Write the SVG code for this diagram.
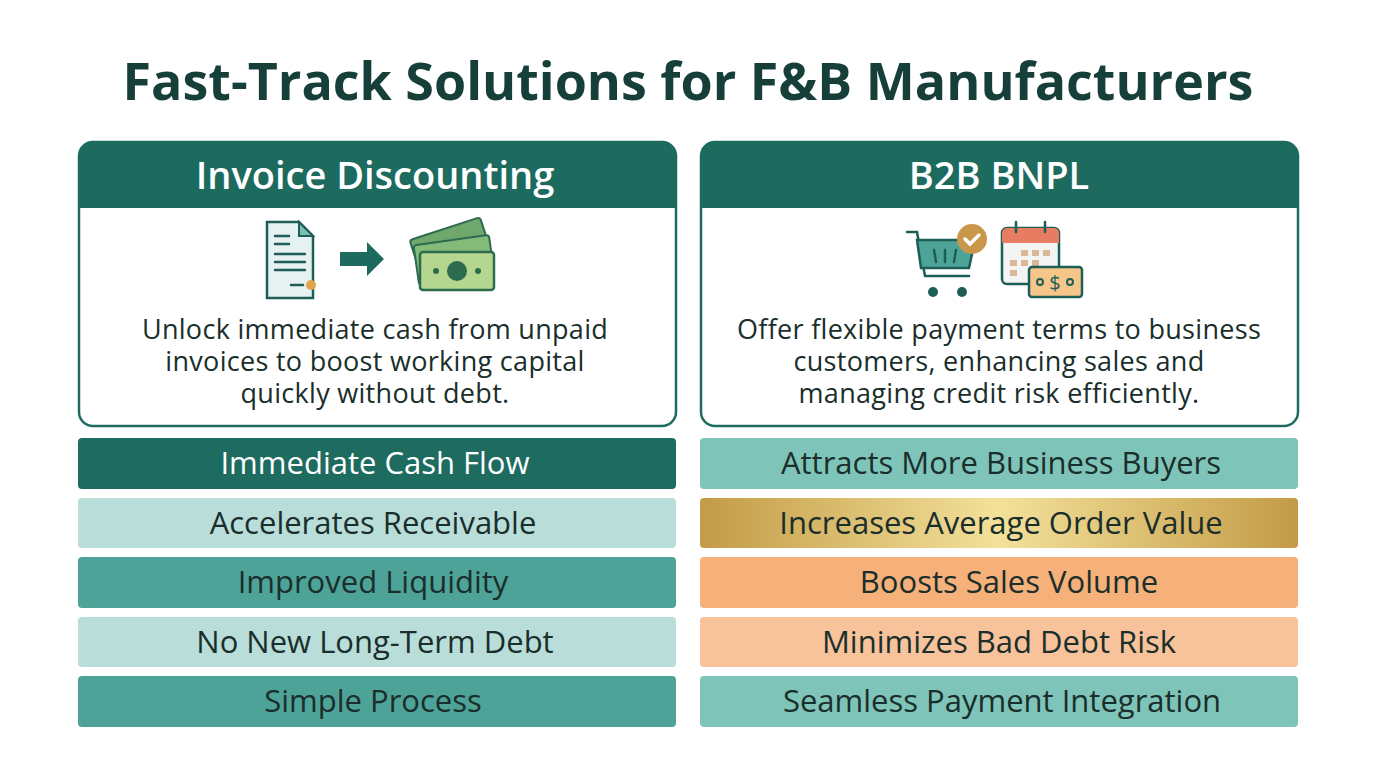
<svg xmlns="http://www.w3.org/2000/svg" width="1376" height="768" viewBox="0 0 1376 768">
<style>
.t{font-family:"Open Sans","Liberation Sans",sans-serif;text-anchor:middle}
.h{font-size:38px;font-weight:600;fill:#fff}
.b{font-size:27px;fill:#1a2e2b;font-weight:500;letter-spacing:0.3px}
.r{font-size:31px;fill:#1a2e2b;font-weight:500}
.ln{stroke:#1d5e56;stroke-width:2.5;fill:none;stroke-linecap:round}
</style>
<defs>
<linearGradient id="gold" x1="0" x2="1"><stop offset="0" stop-color="#c39b47"/><stop offset="0.5" stop-color="#f3e19a"/><stop offset="1" stop-color="#c39b47"/></linearGradient>
</defs>
<rect width="1376" height="768" fill="#fff"/>
<text class="t" x="688" y="100" font-size="52" font-weight="700" fill="#173f3a">Fast-Track Solutions for F&amp;B Manufacturers</text>
<g id="left-panel">
<rect x="79" y="142" width="597" height="284" rx="14" fill="#fff" stroke="#1d6b5f" stroke-width="2.5"/>
<path d="M79 208V156a14 14 0 0 1 14-14h569a14 14 0 0 1 14 14v52z" fill="#1d6b5f"/>
<text class="t h" x="375" y="189">Invoice Discounting</text>
<g id="icon-doc">
<path d="M267 222h32l14 14v62h-46z" fill="#e6f2f2" stroke="#1d5e56" stroke-width="2.5"/>
<path d="M299 222v14h14z" fill="#7cbfb5" stroke="#1d5e56" stroke-width="2"/>
<path class="ln" d="M275 236h14M275 244h14M275 254h30M275 262h30M275 270h30M291 285h12"/>
<circle cx="311" cy="285" r="5" fill="#e3a44c"/>
<path d="M340 252h27v-10l17 17-17 17v-10h-27z" fill="#1d6b5f"/>
<g transform="translate(410 228)">
<rect x="4" y="0" width="74" height="40" rx="3" fill="#6fa86c" stroke="#2d6b4f" stroke-width="2" transform="rotate(-18 40 20)"/>
<rect x="6" y="12" width="76" height="40" rx="3" fill="#85bb7a" stroke="#2d6b4f" stroke-width="2" transform="rotate(-8 44 32)"/>
<rect x="10" y="24" width="74" height="38" rx="3" fill="#b4d68e" stroke="#2d6b4f" stroke-width="2.5"/>
<circle cx="47" cy="43" r="10" fill="#2d6b4f"/><circle cx="26" cy="43" r="3" fill="#2d6b4f"/><circle cx="68" cy="43" r="3" fill="#2d6b4f"/>
</g>
</g>
<text class="t b" x="375" y="339">Unlock immediate cash from unpaid</text>
<text class="t b" x="375" y="371">invoices to boost working capital</text>
<text class="t b" x="375" y="403">quickly without debt.</text>
</g>
<g id="right-panel">
<rect x="701" y="142" width="597" height="284" rx="14" fill="#fff" stroke="#1d6b5f" stroke-width="2.5"/>
<path d="M701 208V156a14 14 0 0 1 14-14h569a14 14 0 0 1 14 14v52z" fill="#1d6b5f"/>
<text class="t h" x="999" y="189">B2B BNPL</text>
<g id="icon-cart">
<path d="M907 232h10l8 44h44" class="ln" stroke-width="3"/>
<path d="M917 240h58l-6 28h-48z" fill="#4ea399" stroke="#1d5e56" stroke-width="2.5"/>
<path class="ln" d="M934 250l2 12M945 250v12M956 250l-2 12"/>
<circle cx="933" cy="292" r="5" fill="#1d5e56"/><circle cx="962" cy="292" r="5" fill="#1d5e56"/>
<circle cx="972" cy="239" r="15" fill="#c9974a"/>
<path d="M965 239l5 5 9-9" stroke="#fff" stroke-width="3.5" fill="none" stroke-linecap="round"/>
<rect x="1002" y="228" width="57" height="56" rx="5" fill="#f4f4f4" stroke="#1d5e56" stroke-width="2.5"/>
<path d="M1002 243v-10a5 5 0 0 1 5-5h47a5 5 0 0 1 5 5v10z" fill="#e67c62"/>
<path class="ln" d="M1016 222v10M1045 222v10" stroke-width="3"/>
<g fill="#d8b896"><rect x="1021" y="250" width="7" height="6"/><rect x="1032" y="250" width="7" height="6"/><rect x="1043" y="250" width="7" height="6"/><rect x="1010" y="260" width="7" height="6"/><rect x="1021" y="260" width="7" height="6"/><rect x="1032" y="260" width="7" height="6"/><rect x="1010" y="270" width="7" height="6"/></g>
<rect x="1029" y="267" width="53" height="30" rx="3" fill="#f6c58a" stroke="#1d5e56" stroke-width="2.5"/>
<text class="t" x="1055" y="290" font-size="20" fill="#1d5e56">$</text>
<circle cx="1040" cy="282" r="3" fill="none" stroke="#1d5e56" stroke-width="2"/><circle cx="1070" cy="282" r="3" fill="none" stroke="#1d5e56" stroke-width="2"/>
</g>
<text class="t b" x="999" y="339">Offer flexible payment terms to business</text>
<text class="t b" x="999" y="371">customers, enhancing sales and</text>
<text class="t b" x="999" y="403">managing credit risk efficiently.</text>
</g>
<g id="left-rows">
<rect x="78" y="438" width="598" height="51" rx="4" fill="#1e6b60"/><text class="t r" x="375" y="474" style="fill:#fff">Immediate Cash Flow</text>
<rect x="78" y="498" width="598" height="50" rx="4" fill="#b9ddd8"/><text class="t r" x="373" y="534">Accelerates Receivable</text>
<rect x="78" y="557" width="598" height="51" rx="4" fill="#4ea399"/><text class="t r" x="373" y="593">Improved Liquidity</text>
<rect x="78" y="617" width="598" height="50" rx="4" fill="#b9ddd8"/><text class="t r" x="375" y="653">No New Long-Term Debt</text>
<rect x="78" y="676" width="598" height="51" rx="4" fill="#4ea399"/><text class="t r" x="373" y="712">Simple Process</text>
</g>
<g id="right-rows">
<rect x="700" y="438" width="598" height="51" rx="4" fill="#7fc4b9"/><text class="t r" x="1001" y="474">Attracts More Business Buyers</text>
<rect x="700" y="498" width="598" height="50" rx="4" fill="url(#gold)"/><text class="t r" x="1001" y="534">Increases Average Order Value</text>
<rect x="700" y="557" width="598" height="51" rx="4" fill="#f6b07a"/><text class="t r" x="1009" y="593">Boosts Sales Volume</text>
<rect x="700" y="617" width="598" height="50" rx="4" fill="#f8c29a"/><text class="t r" x="999" y="653">Minimizes Bad Debt Risk</text>
<rect x="700" y="676" width="598" height="51" rx="4" fill="#7fc4b9"/><text class="t r" x="1002" y="712">Seamless Payment Integration</text>
</g>
</svg>
